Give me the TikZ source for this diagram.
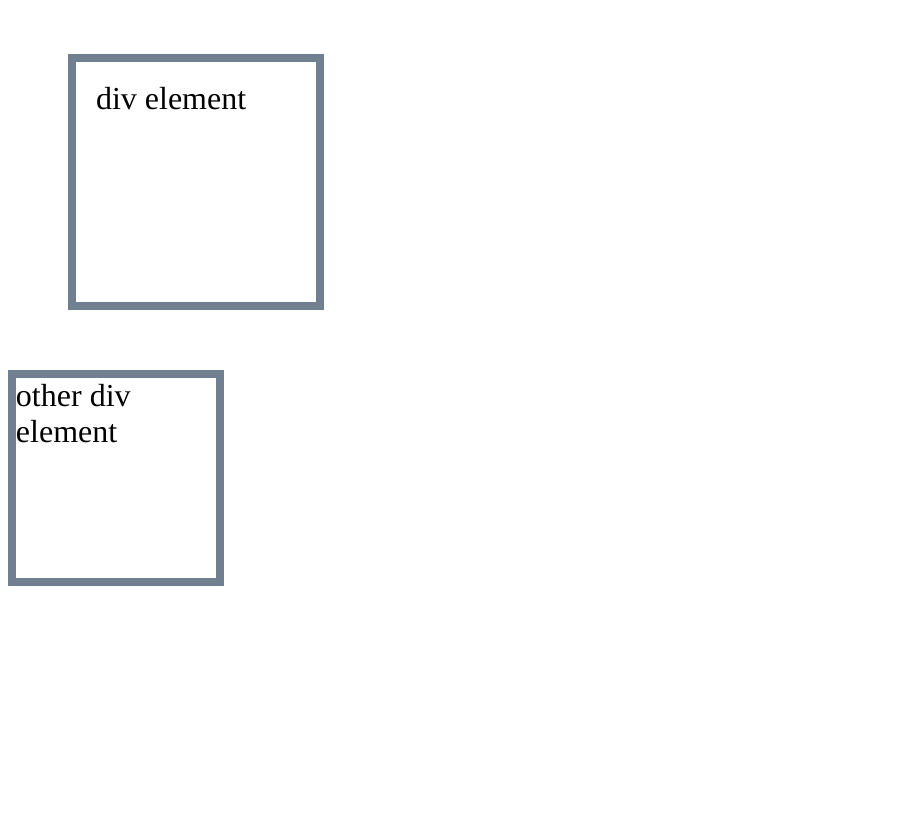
\documentclass[tikz,border=0pt]{standalone}
\usepackage{fontspec}
\setmainfont{Liberation Serif}
\definecolor{slate}{HTML}{708090}
\tikzset{
  divbox/.style={draw=slate, line width=8pt},
  divtext/.style={anchor=base west, inner sep=0pt, outer sep=0pt, align=left,
    font=\fontsize{32}{36}\selectfont, text=black}
}
\begin{document}
\begin{tikzpicture}[x=1pt,y=-1pt]
\useasboundingbox (0,0) rectangle (906,840);
\draw[divbox] (72,58) rectangle (320,306);
\node[divtext] (t1) at (96,110) {div element};
\draw[divbox] (12,374) rectangle (220,582);
\node[divtext] (t2) at (16,442) {other div\\element};
\end{tikzpicture}
\end{document}
